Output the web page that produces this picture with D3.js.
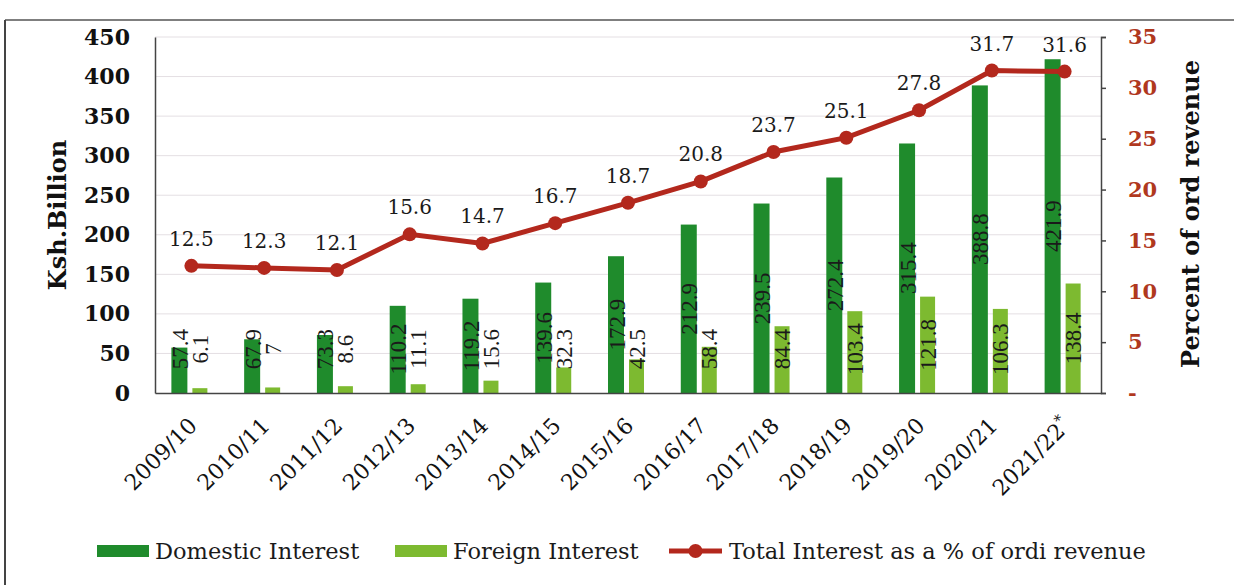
<!DOCTYPE html>
<html>
<head>
<meta charset="utf-8">
<script src="https://cdn.jsdelivr.net/npm/d3@7"></script>
<style>
  body { margin: 0; background: #fff; }
  svg { display: block; }
</style>
</head>
<body>
<svg id="chart" width="1234" height="585"></svg>
<script>
var years = ["2009/10", "2010/11", "2011/12", "2012/13", "2013/14", "2014/15", "2015/16",
             "2016/17", "2017/18", "2018/19", "2019/20", "2020/21", "2021/22*"];
var domestic = [57.4, 67.9, 73.3, 110.2, 119.2, 139.6, 172.9, 212.9, 239.5, 272.4, 315.4, 388.8, 421.9];
var foreign = [6.1, 7, 8.6, 11.1, 15.6, 32.3, 42.5, 58.4, 84.4, 103.4, 121.8, 106.3, 138.4];
var pctRevenue = [12.5, 12.3, 12.1, 15.6, 14.7, 16.7, 18.7, 20.8, 23.7, 25.1, 27.8, 31.7, 31.6];
var leftTicks = [0, 50, 100, 150, 200, 250, 300, 350, 400, 450];
var rightTicks = [0, 5, 10, 15, 20, 25, 30, 35];
var seriesNames = ["Domestic Interest", "Foreign Interest", "Total Interest as a % of ordi revenue"];

var colors = { dom: "#1f8b2c", frn: "#7dba30", line: "#b3281d", rightText: "#b0381e" };
var serif = "'DejaVu Serif', Georgia, serif";
var times = "'Liberation Serif', 'Times New Roman', serif";

var svg = d3.select("#chart");

// scan frame
svg.append("line").attr("x1", 5).attr("x2", 1234).attr("y1", 20).attr("y2", 20)
   .style("stroke", "#555").style("stroke-width", 1.5);
svg.append("line").attr("x1", 5).attr("x2", 5).attr("y1", 20).attr("y2", 585)
   .style("stroke", "#444").style("stroke-width", 2);

// plot box (note: "top" is a reserved window prop, so prefix names)
var plotL = 155, plotR = 1101, plotT = 37, plotB = 393;

var x = d3.scaleBand().domain(years).range([plotL, plotR]);
var y = d3.scaleLinear().domain([0, 450]).range([plotB, plotT]);
var y2 = d3.scaleLinear().domain([0, 35]).range([plotB, plotT]);
var cx = function(d) { return x(d) + x.bandwidth() / 2; };

// gridlines
svg.append("g").selectAll("line")
    .data(leftTicks.filter(function(d) { return d > 0; }))
    .enter().append("line")
    .attr("x1", plotL).attr("x2", plotR)
    .attr("y1", function(d) { return y(d); })
    .attr("y2", function(d) { return y(d); })
    .style("stroke", "#e4dfe3").style("stroke-width", 1);

var rows = years.map(function(yr, i) {
    return { year: yr, dom: domestic[i], frn: foreign[i], pct: pctRevenue[i] };
});

// labels sit mid-bar, but never lower than just above the base
var labelY = function(v) { return Math.min(y(v / 2), plotB - 44); };

var groups = svg.append("g").selectAll(".yr")
    .data(rows).enter().append("g")
    .attr("transform", function(d) { return "translate(" + cx(d.year) + ",0)"; });

groups.append("rect")
    .attr("x", -20).attr("width", 16)
    .attr("y", function(d) { return y(d.dom); })
    .attr("height", function(d) { return plotB - y(d.dom); })
    .style("fill", colors.dom);

groups.append("rect")
    .attr("x", 1).attr("width", 15)
    .attr("y", function(d) { return y(d.frn); })
    .attr("height", function(d) { return plotB - y(d.frn); })
    .style("fill", colors.frn);

groups.append("text")
    .attr("transform", function(d) { return "translate(-11," + labelY(d.dom) + ") rotate(-90)"; })
    .attr("dominant-baseline", "central")
    .style("text-anchor", "middle")
    .style("font", "23px " + times).style("fill", "#1a1a1a")
    .text(function(d) { return d.dom; });

groups.append("text")
    .attr("transform", function(d) { return "translate(9," + labelY(d.frn) + ") rotate(-90)"; })
    .attr("dominant-baseline", "central")
    .style("text-anchor", "middle")
    .style("font", "23px " + times).style("fill", "#1a1a1a")
    .text(function(d) { return d.frn; });

// axes
var leftAxis = svg.append("g").attr("transform", "translate(" + plotL + ",0)")
    .call(d3.axisLeft(y).tickValues(leftTicks).tickSize(0).tickPadding(25));
leftAxis.selectAll("text").style("font", "bold 22px " + serif).style("fill", "#111");

var rightAxis = svg.append("g").attr("transform", "translate(" + plotR + ",0)")
    .call(d3.axisRight(y2).tickValues(rightTicks).tickSize(5).tickPadding(22)
        .tickFormat(function(d) { return d === 0 ? "-" : d; }));
rightAxis.selectAll("text").style("font", "bold 21px " + serif).style("fill", colors.rightText);

var bottomAxis = svg.append("g").attr("transform", "translate(0," + plotB + ")")
    .call(d3.axisBottom(x).tickSize(0));
bottomAxis.selectAll("text")
    .attr("x", null).attr("y", null).attr("dy", null)
    .attr("transform", "translate(7,34) rotate(-45)")
    .style("text-anchor", "end")
    .style("font", "22px " + serif).style("fill", "#111")
    .each(function(d) {
        var t = d3.select(this);
        if (d.slice(-1) === "*") {
            t.text(d.slice(0, -1));
            t.append("tspan").attr("baseline-shift", "super").style("font-size", "15px").text("*");
        }
    });

d3.selectAll(".domain").style("stroke", "#444").style("stroke-width", 1.5);
rightAxis.selectAll(".tick line").style("stroke", "#444").style("stroke-width", 1.5);

// line
var line = d3.line()
    .x(function(d) { return cx(d.year); })
    .y(function(d) { return y2(d.pct); });

svg.append("path").datum(rows)
    .attr("d", line)
    .style("fill", "none").style("stroke", colors.line).style("stroke-width", 5);

svg.append("g").selectAll("circle")
    .data(rows).enter().append("circle")
    .attr("cx", function(d) { return cx(d.year); })
    .attr("cy", function(d) { return y2(d.pct); })
    .attr("r", 7)
    .style("fill", colors.line);

svg.append("g").selectAll("text")
    .data(rows).enter().append("text")
    .attr("x", function(d) { return cx(d.year); })
    .attr("y", function(d) { return y2(d.pct) - 20; })
    .style("text-anchor", "middle")
    .style("font", "20px " + serif).style("fill", "#1a1a1a")
    .text(function(d) { return d.pct; });

// axis titles
svg.append("text")
    .attr("transform", "translate(66,215) rotate(-90)")
    .style("text-anchor", "middle")
    .style("font", "bold 24px " + serif).style("fill", "#111")
    .text("Ksh.Billion");

svg.append("text")
    .attr("transform", "translate(1199,214) rotate(-90)")
    .style("text-anchor", "middle")
    .style("font", "bold 24px " + serif).style("fill", "#111")
    .text("Percent of ord revenue");

// legend
var legendX = [97, 395, 669];
var legend = svg.append("g").selectAll(".legend")
    .data(seriesNames).enter().append("g")
    .attr("transform", function(d, i) { return "translate(" + legendX[i] + ",551)"; });

legend.each(function(d, i) {
    var g = d3.select(this);
    if (i < 2) {
        g.append("rect").attr("x", 0).attr("y", -6).attr("width", 52).attr("height", 12)
            .style("fill", i === 0 ? colors.dom : colors.frn);
    } else {
        g.append("line").attr("x1", 0).attr("x2", 53).attr("y1", 0).attr("y2", 0)
            .style("stroke", colors.line).style("stroke-width", 5);
        g.append("circle").attr("cx", 26.5).attr("cy", 0).attr("r", 7).style("fill", colors.line);
    }
    g.append("text").attr("x", i < 2 ? 58 : 60).attr("y", 8)
        .style("font", "22.5px " + serif).style("fill", "#1a1a1a")
        .text(d);
});
</script>
</body>
</html>
